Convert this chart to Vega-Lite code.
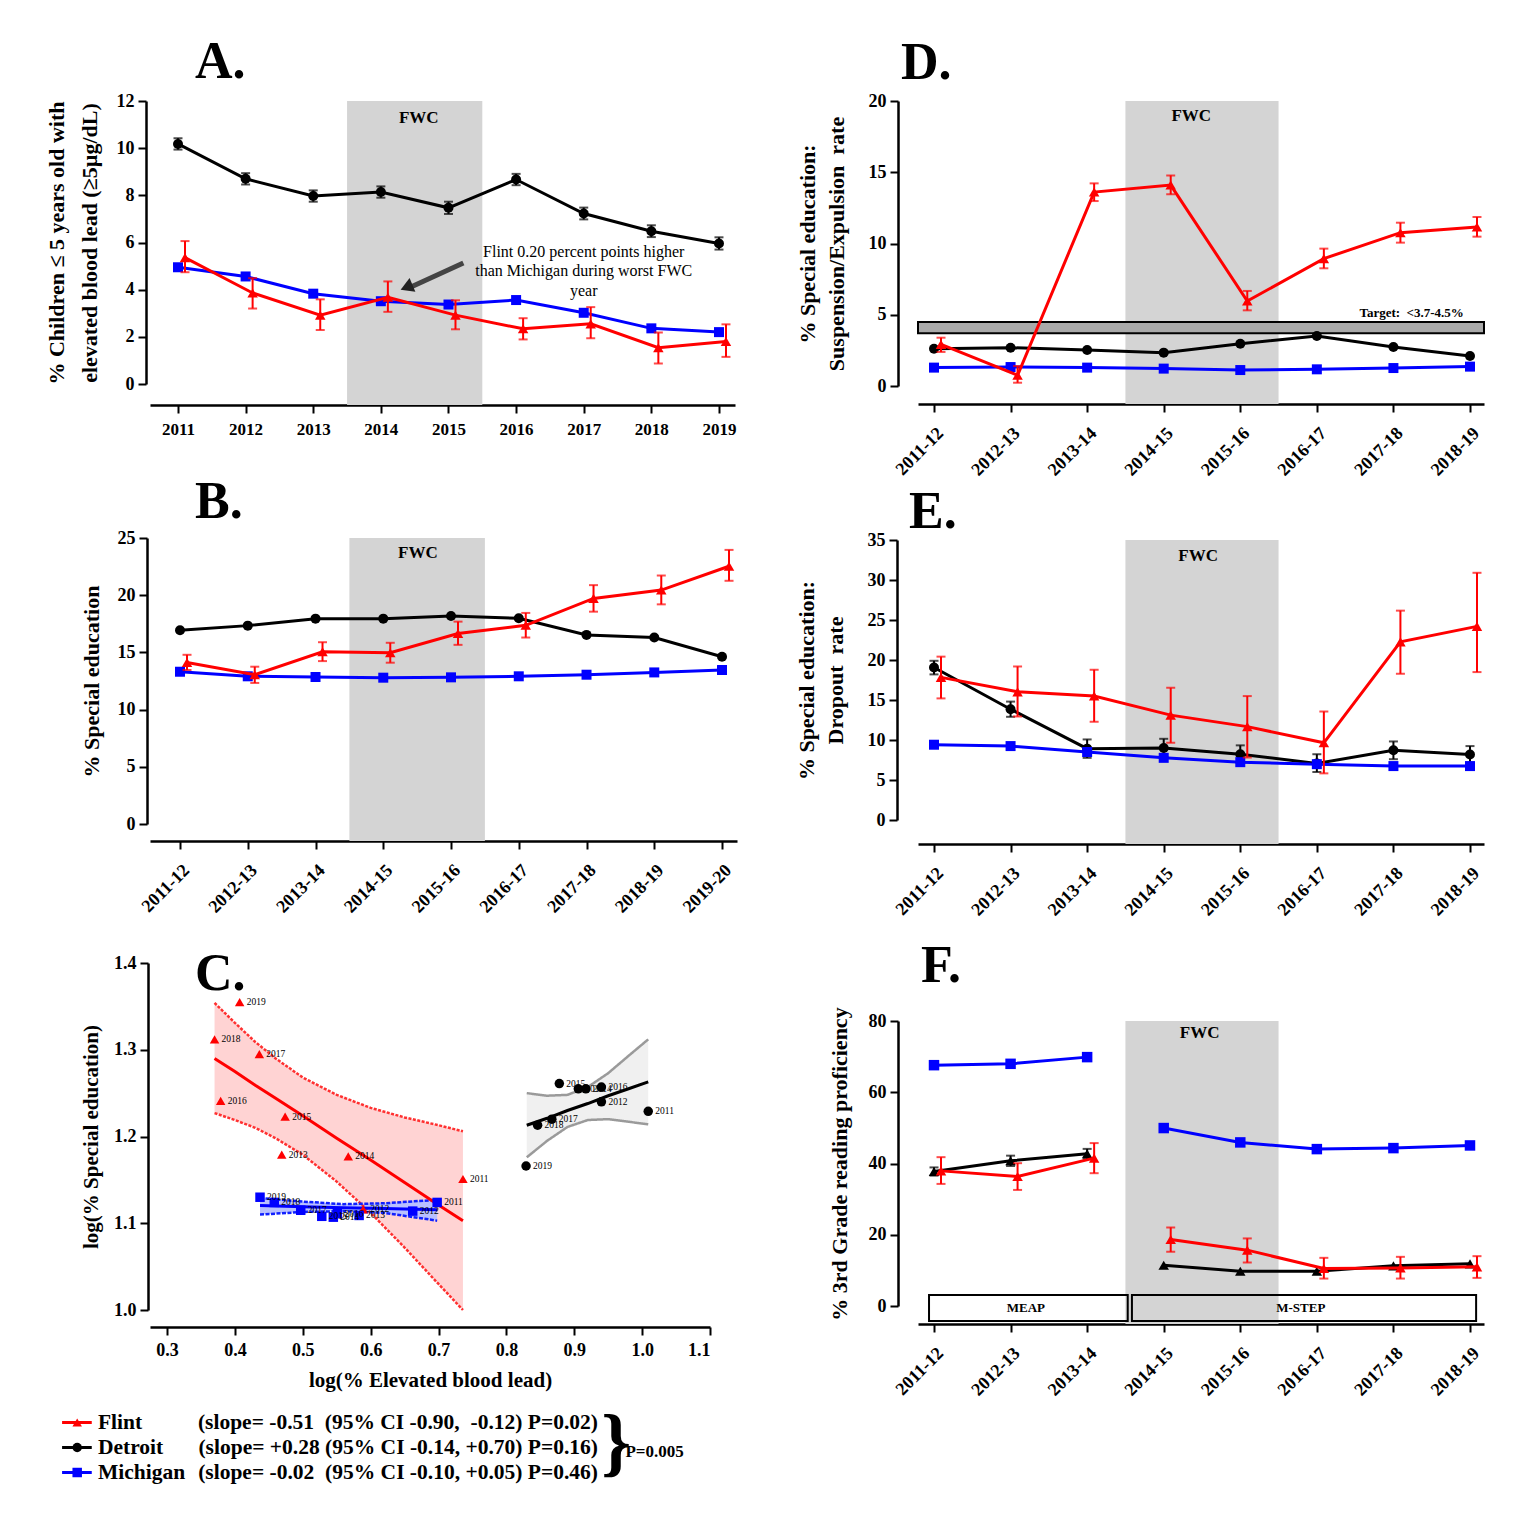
{
  "$schema": "https://vega.github.io/schema/vega-lite/v6.json",
  "background": "white",
  "padding": {"left": 44, "top": 36, "right": 5, "bottom": 5},
  "spacing": 58,
  "config": {
    "font": "Liberation Serif",
    "view": {"stroke": null},
    "axis": {"grid": false, "domainColor": "#000000", "domainWidth": 2.5, "tickColor": "#000000", "tickWidth": 2, "tickSize": 8, "labelFont": "Liberation Serif", "labelFontWeight": "bold", "labelFontSize": 18, "labelColor": "#000000", "labelPadding": 4, "labelOverlap": false, "titleFont": "Liberation Serif", "titleFontWeight": "bold", "titleFontSize": 22, "titleColor": "#000000", "titleLineHeight": 33, "titlePadding": 12},
    "axisX": {"labelAngle": -45, "labelPadding": 12},
    "text": {"font": "Liberation Serif", "color": "#000000"},
    "title": {"font": "Liberation Serif", "fontSize": 52, "fontWeight": "bold", "anchor": "start", "frame": "group", "baseline": "alphabetic", "color": "#000000"}
  },
  "datasets": {
    "a": [
      {"t": 2011, "group": "Detroit", "v": 10.18, "lo": 9.94, "hi": 10.42},
      {"t": 2012, "group": "Detroit", "v": 8.70, "lo": 8.46, "hi": 8.94},
      {"t": 2013, "group": "Detroit", "v": 7.97, "lo": 7.73, "hi": 8.21},
      {"t": 2014, "group": "Detroit", "v": 8.14, "lo": 7.90, "hi": 8.38},
      {"t": 2015, "group": "Detroit", "v": 7.47, "lo": 7.21, "hi": 7.73},
      {"t": 2016, "group": "Detroit", "v": 8.67, "lo": 8.43, "hi": 8.91},
      {"t": 2017, "group": "Detroit", "v": 7.23, "lo": 6.98, "hi": 7.48},
      {"t": 2018, "group": "Detroit", "v": 6.48, "lo": 6.23, "hi": 6.73},
      {"t": 2019, "group": "Detroit", "v": 5.96, "lo": 5.70, "hi": 6.22},
      {"t": 2011, "group": "Michigan", "v": 4.95},
      {"t": 2012, "group": "Michigan", "v": 4.56},
      {"t": 2013, "group": "Michigan", "v": 3.83},
      {"t": 2014, "group": "Michigan", "v": 3.51},
      {"t": 2015, "group": "Michigan", "v": 3.37},
      {"t": 2016, "group": "Michigan", "v": 3.56},
      {"t": 2017, "group": "Michigan", "v": 3.02},
      {"t": 2018, "group": "Michigan", "v": 2.36},
      {"t": 2019, "group": "Michigan", "v": 2.20},
      {"t": 2011, "group": "Flint", "v": 5.36, "lo": 4.74, "hi": 6.06},
      {"t": 2012, "group": "Flint", "v": 3.86, "lo": 3.20, "hi": 4.49},
      {"t": 2013, "group": "Flint", "v": 2.92, "lo": 2.29, "hi": 3.59},
      {"t": 2014, "group": "Flint", "v": 3.68, "lo": 3.06, "hi": 4.35},
      {"t": 2015, "group": "Flint", "v": 2.92, "lo": 2.32, "hi": 3.55},
      {"t": 2016, "group": "Flint", "v": 2.34, "lo": 1.89, "hi": 2.79},
      {"t": 2017, "group": "Flint", "v": 2.55, "lo": 1.94, "hi": 3.26},
      {"t": 2018, "group": "Flint", "v": 1.54, "lo": 0.87, "hi": 2.18},
      {"t": 2019, "group": "Flint", "v": 1.80, "lo": 1.15, "hi": 2.53}
    ],
    "b": [
      {"t": 0, "group": "Detroit", "v": 16.94}, {"t": 1, "group": "Detroit", "v": 17.34}, {"t": 2, "group": "Detroit", "v": 17.95},
      {"t": 3, "group": "Detroit", "v": 17.95}, {"t": 4, "group": "Detroit", "v": 18.18}, {"t": 5, "group": "Detroit", "v": 17.98},
      {"t": 6, "group": "Detroit", "v": 16.53}, {"t": 7, "group": "Detroit", "v": 16.30}, {"t": 8, "group": "Detroit", "v": 14.62},
      {"t": 0, "group": "Michigan", "v": 13.31}, {"t": 1, "group": "Michigan", "v": 12.91}, {"t": 2, "group": "Michigan", "v": 12.85},
      {"t": 3, "group": "Michigan", "v": 12.79}, {"t": 4, "group": "Michigan", "v": 12.82}, {"t": 5, "group": "Michigan", "v": 12.91},
      {"t": 6, "group": "Michigan", "v": 13.05}, {"t": 7, "group": "Michigan", "v": 13.25}, {"t": 8, "group": "Michigan", "v": 13.46},
      {"t": 0, "group": "Flint", "v": 14.12, "lo": 13.46, "hi": 14.79},
      {"t": 1, "group": "Flint", "v": 13.05, "lo": 12.33, "hi": 13.75},
      {"t": 2, "group": "Flint", "v": 15.05, "lo": 14.24, "hi": 15.89},
      {"t": 3, "group": "Flint", "v": 14.97, "lo": 14.10, "hi": 15.84},
      {"t": 4, "group": "Flint", "v": 16.65, "lo": 15.66, "hi": 17.69},
      {"t": 5, "group": "Flint", "v": 17.37, "lo": 16.30, "hi": 18.45},
      {"t": 6, "group": "Flint", "v": 19.72, "lo": 18.56, "hi": 20.88},
      {"t": 7, "group": "Flint", "v": 20.45, "lo": 19.20, "hi": 21.72},
      {"t": 8, "group": "Flint", "v": 22.53, "lo": 21.26, "hi": 23.96}
    ],
    "d": [
      {"t": 0, "group": "Detroit", "v": 2.62}, {"t": 1, "group": "Detroit", "v": 2.69}, {"t": 2, "group": "Detroit", "v": 2.53},
      {"t": 3, "group": "Detroit", "v": 2.34}, {"t": 4, "group": "Detroit", "v": 2.97}, {"t": 5, "group": "Detroit", "v": 3.51},
      {"t": 6, "group": "Detroit", "v": 2.74}, {"t": 7, "group": "Detroit", "v": 2.11},
      {"t": 0, "group": "Michigan", "v": 1.29}, {"t": 1, "group": "Michigan", "v": 1.33}, {"t": 2, "group": "Michigan", "v": 1.29},
      {"t": 3, "group": "Michigan", "v": 1.22}, {"t": 4, "group": "Michigan", "v": 1.12}, {"t": 5, "group": "Michigan", "v": 1.17},
      {"t": 6, "group": "Michigan", "v": 1.26}, {"t": 7, "group": "Michigan", "v": 1.36},
      {"t": 0, "group": "Flint", "v": 2.92, "lo": 2.39, "hi": 3.39},
      {"t": 1, "group": "Flint", "v": 0.75, "lo": 0.23, "hi": 1.40},
      {"t": 2, "group": "Flint", "v": 13.61, "lo": 12.98, "hi": 14.22},
      {"t": 3, "group": "Flint", "v": 14.10, "lo": 13.45, "hi": 14.78},
      {"t": 4, "group": "Flint", "v": 5.96, "lo": 5.31, "hi": 6.67},
      {"t": 5, "group": "Flint", "v": 8.94, "lo": 8.26, "hi": 9.64},
      {"t": 6, "group": "Flint", "v": 10.76, "lo": 10.06, "hi": 11.46},
      {"t": 7, "group": "Flint", "v": 11.16, "lo": 10.48, "hi": 11.86}
    ],
    "e": [
      {"t": 0, "group": "Detroit", "v": 19.06, "lo": 18.2, "hi": 19.9},
      {"t": 1, "group": "Detroit", "v": 13.85, "lo": 12.9, "hi": 14.8},
      {"t": 2, "group": "Detroit", "v": 8.92, "lo": 7.77, "hi": 10.07},
      {"t": 3, "group": "Detroit", "v": 9.0, "lo": 7.89, "hi": 10.15},
      {"t": 4, "group": "Detroit", "v": 8.22, "lo": 7.15, "hi": 9.33},
      {"t": 5, "group": "Detroit", "v": 7.07, "lo": 6.0, "hi": 8.22},
      {"t": 6, "group": "Detroit", "v": 8.71, "lo": 7.6, "hi": 9.82},
      {"t": 7, "group": "Detroit", "v": 8.18, "lo": 7.15, "hi": 9.24},
      {"t": 0, "group": "Michigan", "v": 9.41}, {"t": 1, "group": "Michigan", "v": 9.24}, {"t": 2, "group": "Michigan", "v": 8.50},
      {"t": 3, "group": "Michigan", "v": 7.77}, {"t": 4, "group": "Michigan", "v": 7.23}, {"t": 5, "group": "Michigan", "v": 6.98},
      {"t": 6, "group": "Michigan", "v": 6.74}, {"t": 7, "group": "Michigan", "v": 6.74},
      {"t": 0, "group": "Flint", "v": 17.83, "lo": 15.2, "hi": 20.42},
      {"t": 1, "group": "Flint", "v": 16.02, "lo": 12.94, "hi": 19.19},
      {"t": 2, "group": "Flint", "v": 15.49, "lo": 12.28, "hi": 18.78},
      {"t": 3, "group": "Flint", "v": 13.11, "lo": 9.65, "hi": 16.52},
      {"t": 4, "group": "Flint", "v": 11.67, "lo": 7.81, "hi": 15.49},
      {"t": 5, "group": "Flint", "v": 9.65, "lo": 5.83, "hi": 13.56},
      {"t": 6, "group": "Flint", "v": 22.27, "lo": 18.28, "hi": 26.17},
      {"t": 7, "group": "Flint", "v": 24.2, "lo": 18.49, "hi": 30.9}
    ],
    "f": [
      {"t": 0, "group": "Michigan", "test": "MEAP", "v": 67.6},
      {"t": 1, "group": "Michigan", "test": "MEAP", "v": 67.98},
      {"t": 2, "group": "Michigan", "test": "MEAP", "v": 69.86},
      {"t": 3, "group": "Michigan", "test": "M-STEP", "v": 49.95},
      {"t": 4, "group": "Michigan", "test": "M-STEP", "v": 45.92},
      {"t": 5, "group": "Michigan", "test": "M-STEP", "v": 44.04},
      {"t": 6, "group": "Michigan", "test": "M-STEP", "v": 44.32},
      {"t": 7, "group": "Michigan", "test": "M-STEP", "v": 45.07},
      {"t": 0, "group": "Detroit", "test": "MEAP", "v": 37.75, "lo": 36.6, "hi": 38.9},
      {"t": 1, "group": "Detroit", "test": "MEAP", "v": 40.75, "lo": 39.3, "hi": 42.2},
      {"t": 2, "group": "Detroit", "test": "MEAP", "v": 42.72, "lo": 41.3, "hi": 44.1},
      {"t": 3, "group": "Detroit", "test": "M-STEP", "v": 11.46},
      {"t": 4, "group": "Detroit", "test": "M-STEP", "v": 9.77},
      {"t": 5, "group": "Detroit", "test": "M-STEP", "v": 9.77},
      {"t": 6, "group": "Detroit", "test": "M-STEP", "v": 11.27},
      {"t": 7, "group": "Detroit", "test": "M-STEP", "v": 11.83},
      {"t": 0, "group": "Flint", "test": "MEAP", "v": 37.93, "lo": 34.27, "hi": 41.78},
      {"t": 1, "group": "Flint", "test": "MEAP", "v": 36.34, "lo": 32.58, "hi": 40.09},
      {"t": 2, "group": "Flint", "test": "MEAP", "v": 41.5, "lo": 37.28, "hi": 45.73},
      {"t": 3, "group": "Flint", "test": "M-STEP", "v": 18.69, "lo": 15.21, "hi": 22.07},
      {"t": 4, "group": "Flint", "test": "M-STEP", "v": 15.68, "lo": 12.21, "hi": 18.97},
      {"t": 5, "group": "Flint", "test": "M-STEP", "v": 10.52, "lo": 7.7, "hi": 13.52},
      {"t": 6, "group": "Flint", "test": "M-STEP", "v": 10.70, "lo": 7.7, "hi": 13.8},
      {"t": 7, "group": "Flint", "test": "M-STEP", "v": 10.99, "lo": 7.89, "hi": 13.99}
    ],
    "cpts": [
      {"group": "Flint", "x": 0.407, "y": 1.355, "label": "2019"},
      {"group": "Flint", "x": 0.370, "y": 1.312, "label": "2018"},
      {"group": "Flint", "x": 0.436, "y": 1.295, "label": "2017"},
      {"group": "Flint", "x": 0.379, "y": 1.241, "label": "2016"},
      {"group": "Flint", "x": 0.474, "y": 1.223, "label": "2015"},
      {"group": "Flint", "x": 0.567, "y": 1.177, "label": "2014"},
      {"group": "Flint", "x": 0.469, "y": 1.179, "label": "2013"},
      {"group": "Flint", "x": 0.589, "y": 1.116, "label": "2012"},
      {"group": "Flint", "x": 0.736, "y": 1.151, "label": "2011"},
      {"group": "Detroit", "x": 1.009, "y": 1.229, "label": "2011"},
      {"group": "Detroit", "x": 0.940, "y": 1.240, "label": "2012"},
      {"group": "Detroit", "x": 0.906, "y": 1.255, "label": "2013"},
      {"group": "Detroit", "x": 0.917, "y": 1.255, "label": "2014"},
      {"group": "Detroit", "x": 0.878, "y": 1.261, "label": "2015"},
      {"group": "Detroit", "x": 0.940, "y": 1.257, "label": "2016"},
      {"group": "Detroit", "x": 0.867, "y": 1.220, "label": "2017"},
      {"group": "Detroit", "x": 0.846, "y": 1.213, "label": "2018"},
      {"group": "Detroit", "x": 0.829, "y": 1.166, "label": "2019"},
      {"group": "Michigan", "x": 0.698, "y": 1.124, "label": "2011"},
      {"group": "Michigan", "x": 0.662, "y": 1.114, "label": "2012"},
      {"group": "Michigan", "x": 0.583, "y": 1.109, "label": "2013"},
      {"group": "Michigan", "x": 0.545, "y": 1.107, "label": "2014"},
      {"group": "Michigan", "x": 0.528, "y": 1.108, "label": "2015"},
      {"group": "Michigan", "x": 0.551, "y": 1.111, "label": "2016"},
      {"group": "Michigan", "x": 0.497, "y": 1.115, "label": "2017"},
      {"group": "Michigan", "x": 0.458, "y": 1.124, "label": "2018"},
      {"group": "Michigan", "x": 0.437, "y": 1.130, "label": "2019"}
    ],
    "cfit": [
      {"group": "Flint", "x": 0.37, "fit": 1.290, "lo": 1.227, "hi": 1.354},
      {"group": "Flint", "x": 0.40, "fit": 1.275, "lo": 1.219, "hi": 1.331},
      {"group": "Flint", "x": 0.43, "fit": 1.259, "lo": 1.210, "hi": 1.309},
      {"group": "Flint", "x": 0.46, "fit": 1.244, "lo": 1.198, "hi": 1.290},
      {"group": "Flint", "x": 0.50, "fit": 1.224, "lo": 1.179, "hi": 1.268},
      {"group": "Flint", "x": 0.55, "fit": 1.198, "lo": 1.148, "hi": 1.248},
      {"group": "Flint", "x": 0.60, "fit": 1.173, "lo": 1.112, "hi": 1.233},
      {"group": "Flint", "x": 0.65, "fit": 1.147, "lo": 1.072, "hi": 1.222},
      {"group": "Flint", "x": 0.70, "fit": 1.121, "lo": 1.030, "hi": 1.213},
      {"group": "Flint", "x": 0.736, "fit": 1.103, "lo": 1.000, "hi": 1.206},
      {"group": "Detroit", "x": 0.83, "fit": 1.213, "lo": 1.176, "hi": 1.250},
      {"group": "Detroit", "x": 0.86, "fit": 1.221, "lo": 1.195, "hi": 1.247},
      {"group": "Detroit", "x": 0.89, "fit": 1.230, "lo": 1.211, "hi": 1.248},
      {"group": "Detroit", "x": 0.92, "fit": 1.238, "lo": 1.219, "hi": 1.257},
      {"group": "Detroit", "x": 0.95, "fit": 1.247, "lo": 1.220, "hi": 1.273},
      {"group": "Detroit", "x": 0.98, "fit": 1.255, "lo": 1.217, "hi": 1.293},
      {"group": "Detroit", "x": 1.009, "fit": 1.263, "lo": 1.214, "hi": 1.312},
      {"group": "Michigan", "x": 0.437, "fit": 1.1205, "lo": 1.110, "hi": 1.129},
      {"group": "Michigan", "x": 0.50, "fit": 1.119, "lo": 1.113, "hi": 1.125},
      {"group": "Michigan", "x": 0.56, "fit": 1.118, "lo": 1.114, "hi": 1.122},
      {"group": "Michigan", "x": 0.62, "fit": 1.117, "lo": 1.112, "hi": 1.123},
      {"group": "Michigan", "x": 0.698, "fit": 1.1155, "lo": 1.103, "hi": 1.127}
    ],
    "legend": [
      {"group": "Flint", "stats": "(slope= -0.51\u00a0 (95% CI -0.90,\u00a0 -0.12) P=0.02)"},
      {"group": "Detroit", "stats": "(slope= +0.28 (95% CI -0.14, +0.70) P=0.16)"},
      {"group": "Michigan", "stats": "(slope= -0.02\u00a0 (95% CI -0.10, +0.05) P=0.46)"}
    ]
  },
  "hconcat": [
    {
      "spacing": 15,
      "vconcat": [
        {
          "spacing": 31,
          "vconcat": [
            {
              "spacing": 39,
              "vconcat": [
                {
                  "width": 585, "height": 283,
                  "title": {"text": "A.", "dx": 45, "offset": 3},
                  "data": {"name": "a"},
                  "encoding": {
                    "x": {"field": "t", "type": "quantitative", "scale": {"domain": [2010.586, 2019.237], "nice": false, "zero": false},
                          "axis": {"values": [2011, 2012, 2013, 2014, 2015, 2016, 2017, 2018, 2019], "format": "d", "title": null, "offset": 21, "labelAngle": 0, "labelFontSize": 17, "labelPadding": 8, "tickCount": 12}}
                  },
                  "layer": [
                    {"data": {"values": [{"t": 2013.5, "t2": 2015.5, "lo": -0.89, "hi": 12}]},
                     "mark": {"type": "rect", "color": "#d4d4d4"},
                     "encoding": {"x2": {"field": "t2"},
                                  "y": {"field": "lo", "type": "quantitative", "scale": {"domain": [0, 12], "nice": false},
                                        "axis": {"values": [0, 2, 4, 6, 8, 10, 12], "tickCount": 10, "offset": 4, "titlePadding": 15, "title": ["% Children ≤ 5 years old with", "elevated blood lead (≥5µg/dL)"]}},
                                  "y2": {"field": "hi"}}},
                    {"data": {"values": [{"t": 2014.56, "v": 11.28, "label": "FWC"}]},
                     "mark": {"type": "text", "fontSize": 17, "fontWeight": "bold"},
                     "encoding": {"y": {"field": "v", "type": "quantitative", "scale": {"domain": [0, 12], "nice": false}}, "text": {"field": "label"}}},
                    {"data": {"values": [{"t": 2015.22, "v": 5.13, "t2": 2014.42, "v2": 4.08}]},
                     "mark": {"type": "rule", "strokeWidth": 5, "color": "#444444"},
                     "encoding": {"x2": {"field": "t2"}, "y": {"field": "v", "type": "quantitative", "scale": {"domain": [0, 12], "nice": false}}, "y2": {"field": "v2"}}},
                    {"data": {"values": [{"t": 2014.38, "v": 4.1}]},
                     "mark": {"type": "point", "shape": "triangle-left", "angle": -23, "size": 220, "filled": true, "color": "#222222", "opacity": 1},
                     "encoding": {"y": {"field": "v", "type": "quantitative", "scale": {"domain": [0, 12], "nice": false}}}},
                    {"data": {"values": [{"t": 2017.0, "v": 5.6, "label": "Flint 0.20 percent points higher\nthan Michigan during worst FWC\nyear"}]},
                     "mark": {"type": "text", "fontSize": 16, "lineBreak": "\n", "lineHeight": 19.5},
                     "encoding": {"y": {"field": "v", "type": "quantitative", "scale": {"domain": [0, 12], "nice": false}}, "text": {"field": "label"}}},
                    {"transform": [{"filter": "datum.group != 'Flint'"}],
                     "mark": {"type": "line", "strokeWidth": 3},
                     "encoding": {"y": {"field": "v", "type": "quantitative", "scale": {"domain": [0, 12], "nice": false}},
                                  "color": {"field": "group", "type": "nominal", "scale": {"domain": ["Flint", "Detroit", "Michigan"], "range": ["#ff0000", "#000000", "#0000ff"]}, "legend": null}}},
                    {"transform": [{"filter": "datum.group == 'Detroit'"}],
                     "mark": {"type": "rule", "strokeWidth": 2, "color": "#000000"},
                     "encoding": {"y": {"field": "lo", "type": "quantitative", "scale": {"domain": [0, 12], "nice": false}}, "y2": {"field": "hi"}}},
                    {"transform": [{"filter": "datum.group == 'Detroit'"}, {"fold": ["lo", "hi"], "as": ["end", "ev"]}],
                     "mark": {"type": "tick", "orient": "horizontal", "size": 9, "thickness": 2, "color": "#000000"},
                     "encoding": {"y": {"field": "ev", "type": "quantitative", "scale": {"domain": [0, 12], "nice": false}}}},
                    {"transform": [{"filter": "datum.group != 'Flint'"}],
                     "mark": {"type": "point", "filled": true, "size": 100, "opacity": 1},
                     "encoding": {"y": {"field": "v", "type": "quantitative", "scale": {"domain": [0, 12], "nice": false}},
                                  "color": {"field": "group", "type": "nominal", "scale": {"domain": ["Flint", "Detroit", "Michigan"], "range": ["#ff0000", "#000000", "#0000ff"]}, "legend": null},
                                  "shape": {"field": "group", "type": "nominal", "scale": {"domain": ["Flint", "Detroit", "Michigan"], "range": ["triangle-up", "circle", "square"]}, "legend": null}}},
                    {"transform": [{"filter": "datum.group == 'Flint'"}],
                     "mark": {"type": "line", "strokeWidth": 3, "color": "#ff0000", "xOffset": 7},
                     "encoding": {"y": {"field": "v", "type": "quantitative", "scale": {"domain": [0, 12], "nice": false}}}},
                    {"transform": [{"filter": "datum.group == 'Flint'"}],
                     "mark": {"type": "rule", "strokeWidth": 2, "color": "#ff0000", "xOffset": 7},
                     "encoding": {"y": {"field": "lo", "type": "quantitative", "scale": {"domain": [0, 12], "nice": false}}, "y2": {"field": "hi"}}},
                    {"transform": [{"filter": "datum.group == 'Flint'"}, {"fold": ["lo", "hi"], "as": ["end", "ev"]}],
                     "mark": {"type": "tick", "orient": "horizontal", "size": 9, "thickness": 2, "color": "#ff0000", "xOffset": 7},
                     "encoding": {"y": {"field": "ev", "type": "quantitative", "scale": {"domain": [0, 12], "nice": false}}}},
                    {"transform": [{"filter": "datum.group == 'Flint'"}],
                     "mark": {"type": "point", "shape": "triangle-up", "filled": true, "size": 110, "color": "#ff0000", "opacity": 1, "xOffset": 7},
                     "encoding": {"y": {"field": "v", "type": "quantitative", "scale": {"domain": [0, 12], "nice": false}}}}
                  ]
                },
                {
                  "width": 587, "height": 286,
                  "title": {"text": "B.", "dx": 45, "offset": 0},
                  "data": {"name": "b"},
                  "encoding": {
                    "x": {"field": "t", "type": "quantitative", "scale": {"domain": [-0.443, 8.221], "nice": false, "zero": false},
                          "axis": {"values": [0, 1, 2, 3, 4, 5, 6, 7, 8], "tickCount": 12, "labelExpr": "['2011-12','2012-13','2013-14','2014-15','2015-16','2016-17','2017-18','2018-19','2019-20'][datum.value]", "title": null, "offset": 17}}
                  },
                  "layer": [
                    {"data": {"values": [{"t": 2.5, "t2": 4.5, "lo": -1.49, "hi": 25}]},
                     "mark": {"type": "rect", "color": "#d4d4d4"},
                     "encoding": {"x2": {"field": "t2"},
                                  "y": {"field": "lo", "type": "quantitative", "scale": {"domain": [0, 25], "nice": false},
                                        "axis": {"values": [0, 5, 10, 15, 20, 25], "tickCount": 10, "offset": 3, "title": "% Special education", "titlePadding": 14}},
                                  "y2": {"field": "hi"}}},
                    {"data": {"values": [{"t": 3.51, "v": 23.7, "label": "FWC"}]},
                     "mark": {"type": "text", "fontSize": 17, "fontWeight": "bold"},
                     "encoding": {"y": {"field": "v", "type": "quantitative", "scale": {"domain": [0, 25], "nice": false}}, "text": {"field": "label"}}},
                    {"transform": [{"filter": "datum.group != 'Flint'"}],
                     "mark": {"type": "line", "strokeWidth": 3},
                     "encoding": {"y": {"field": "v", "type": "quantitative", "scale": {"domain": [0, 25], "nice": false}},
                                  "color": {"field": "group", "type": "nominal", "scale": {"domain": ["Flint", "Detroit", "Michigan"], "range": ["#ff0000", "#000000", "#0000ff"]}, "legend": null}}},
                    {"transform": [{"filter": "datum.group != 'Flint'"}],
                     "mark": {"type": "point", "filled": true, "size": 100, "opacity": 1},
                     "encoding": {"y": {"field": "v", "type": "quantitative", "scale": {"domain": [0, 25], "nice": false}},
                                  "color": {"field": "group", "type": "nominal", "scale": {"domain": ["Flint", "Detroit", "Michigan"], "range": ["#ff0000", "#000000", "#0000ff"]}, "legend": null},
                                  "shape": {"field": "group", "type": "nominal", "scale": {"domain": ["Flint", "Detroit", "Michigan"], "range": ["triangle-up", "circle", "square"]}, "legend": null}}},
                    {"transform": [{"filter": "datum.group == 'Flint'"}],
                     "mark": {"type": "line", "strokeWidth": 3, "color": "#ff0000", "xOffset": 7},
                     "encoding": {"y": {"field": "v", "type": "quantitative", "scale": {"domain": [0, 25], "nice": false}}}},
                    {"transform": [{"filter": "datum.group == 'Flint'"}],
                     "mark": {"type": "rule", "strokeWidth": 2, "color": "#ff0000", "xOffset": 7},
                     "encoding": {"y": {"field": "lo", "type": "quantitative", "scale": {"domain": [0, 25], "nice": false}}, "y2": {"field": "hi"}}},
                    {"transform": [{"filter": "datum.group == 'Flint'"}, {"fold": ["lo", "hi"], "as": ["end", "ev"]}],
                     "mark": {"type": "tick", "orient": "horizontal", "size": 9, "thickness": 2, "color": "#ff0000", "xOffset": 7},
                     "encoding": {"y": {"field": "ev", "type": "quantitative", "scale": {"domain": [0, 25], "nice": false}}}},
                    {"transform": [{"filter": "datum.group == 'Flint'"}],
                     "mark": {"type": "point", "shape": "triangle-up", "filled": true, "size": 110, "color": "#ff0000", "opacity": 1, "xOffset": 7},
                     "encoding": {"y": {"field": "v", "type": "quantitative", "scale": {"domain": [0, 25], "nice": false}}}}
                  ]
                }
              ]
            },
            {
              "width": 560, "height": 347,
              "title": {"text": "C.", "dx": 45, "offset": -47},
              "encoding": {
                "x": {"field": "x", "type": "quantitative", "scale": {"domain": [0.2749, 1.1], "nice": false, "zero": false},
                      "axis": {"values": [0.3, 0.4, 0.5, 0.6, 0.7, 0.8, 0.9, 1.0, 1.1], "tickCount": 12, "format": ".1f", "title": "log(% Elevated blood lead)", "offset": 17, "labelAngle": 0, "labelPadding": 6, "titleFontSize": 21, "titlePadding": 10}}
              },
              "layer": [
                {"data": {"name": "cfit"},
                 "mark": {"type": "area", "opacity": 1},
                 "encoding": {"y": {"field": "lo", "type": "quantitative", "stack": null, "scale": {"domain": [1.0, 1.4], "nice": false, "zero": false},
                                    "axis": {"values": [1.0, 1.1, 1.2, 1.3, 1.4], "tickCount": 10, "format": ".1f", "offset": 2, "title": "log(% Special education)", "titleFontSize": 21}},
                              "y2": {"field": "hi"},
                              "fill": {"field": "group", "type": "nominal", "scale": {"domain": ["Flint", "Detroit", "Michigan"], "range": ["#ffd3d3", "#f0f0f0", "#b9c0ff"]}, "legend": null}}},
                {"data": {"name": "cfit"},
                 "mark": {"type": "line", "strokeWidth": 2.5},
                 "encoding": {"y": {"field": "lo", "type": "quantitative", "scale": {"domain": [1.0, 1.4], "nice": false, "zero": false}},
                              "stroke": {"field": "group", "type": "nominal", "scale": {"domain": ["Flint", "Detroit", "Michigan"], "range": ["#ff3030", "#9a9a9a", "#1020ff"]}, "legend": null},
                              "strokeDash": {"field": "group", "type": "nominal", "scale": {"domain": ["Flint", "Detroit", "Michigan"], "range": [[3, 1.5], [1, 0], [4, 1.5]]}, "legend": null}}},
                {"data": {"name": "cfit"},
                 "mark": {"type": "line", "strokeWidth": 2.5},
                 "encoding": {"y": {"field": "hi", "type": "quantitative", "scale": {"domain": [1.0, 1.4], "nice": false, "zero": false}},
                              "stroke": {"field": "group", "type": "nominal", "scale": {"domain": ["Flint", "Detroit", "Michigan"], "range": ["#ff3030", "#9a9a9a", "#1020ff"]}, "legend": null},
                              "strokeDash": {"field": "group", "type": "nominal", "scale": {"domain": ["Flint", "Detroit", "Michigan"], "range": [[3, 1.5], [1, 0], [4, 1.5]]}, "legend": null}}},
                {"data": {"name": "cfit"},
                 "mark": {"type": "line", "strokeWidth": 3},
                 "encoding": {"y": {"field": "fit", "type": "quantitative", "scale": {"domain": [1.0, 1.4], "nice": false, "zero": false}},
                              "color": {"field": "group", "type": "nominal", "scale": {"domain": ["Flint", "Detroit", "Michigan"], "range": ["#ff0000", "#000000", "#0000ff"]}, "legend": null}}},
                {"data": {"name": "cpts"},
                 "mark": {"type": "point", "filled": true, "size": 90, "opacity": 1},
                 "encoding": {"y": {"field": "y", "type": "quantitative", "scale": {"domain": [1.0, 1.4], "nice": false, "zero": false}},
                              "color": {"field": "group", "type": "nominal", "scale": {"domain": ["Flint", "Detroit", "Michigan"], "range": ["#ff0000", "#000000", "#0000ff"]}, "legend": null},
                              "shape": {"field": "group", "type": "nominal", "scale": {"domain": ["Flint", "Detroit", "Michigan"], "range": ["triangle-up", "circle", "square"]}, "legend": null}}},
                {"data": {"name": "cpts"},
                 "mark": {"type": "text", "fontSize": 9.5, "align": "left", "dx": 7, "baseline": "middle"},
                 "encoding": {"y": {"field": "y", "type": "quantitative", "scale": {"domain": [1.0, 1.4], "nice": false, "zero": false}}, "text": {"field": "label"}}}
              ]
            }
          ]
        },
        {
          "width": 560, "height": 75,
          "data": {"name": "legend"},
          "encoding": {
            "y": {"field": "group", "type": "nominal", "scale": {"type": "point", "domain": ["Flint", "Detroit", "Michigan"], "padding": 0.5}, "axis": null}
          },
          "layer": [
            {"mark": {"type": "rule", "strokeWidth": 3},
             "encoding": {"x": {"datum": -0.157, "type": "quantitative", "scale": {"domain": [0, 1]}, "axis": null}, "x2": {"datum": -0.104},
                          "color": {"field": "group", "type": "nominal", "scale": {"domain": ["Flint", "Detroit", "Michigan"], "range": ["#ff0000", "#000000", "#0000ff"]}, "legend": null}}},
            {"mark": {"type": "point", "filled": true, "size": 90, "opacity": 1},
             "encoding": {"x": {"datum": -0.130, "type": "quantitative", "scale": {"domain": [0, 1]}, "axis": null},
                          "color": {"field": "group", "type": "nominal", "scale": {"domain": ["Flint", "Detroit", "Michigan"], "range": ["#ff0000", "#000000", "#0000ff"]}, "legend": null},
                          "shape": {"field": "group", "type": "nominal", "scale": {"domain": ["Flint", "Detroit", "Michigan"], "range": ["triangle-up", "circle", "square"]}, "legend": null}}},
            {"mark": {"type": "text", "fontSize": 21.5, "fontWeight": "bold", "align": "left", "baseline": "middle"},
             "encoding": {"x": {"datum": -0.093, "type": "quantitative", "scale": {"domain": [0, 1]}, "axis": null}, "text": {"field": "group"}}},
            {"mark": {"type": "text", "fontSize": 21.5, "fontWeight": "bold", "align": "right", "baseline": "middle"},
             "encoding": {"x": {"datum": 0.80, "type": "quantitative", "scale": {"domain": [0, 1]}, "axis": null}, "text": {"field": "stats"}}},
            {"transform": [{"filter": "datum.group == 'Detroit'"}],
             "mark": {"type": "text", "fontSize": 76, "fontWeight": "bold", "align": "left", "baseline": "middle", "dy": -4},
             "encoding": {"x": {"datum": 0.806, "type": "quantitative", "scale": {"domain": [0, 1]}, "axis": null}, "text": {"value": "}"}}},
            {"transform": [{"filter": "datum.group == 'Detroit'"}],
             "mark": {"type": "text", "fontSize": 17, "fontWeight": "bold", "align": "left", "baseline": "middle", "dy": 4},
             "encoding": {"x": {"datum": 0.849, "type": "quantitative", "scale": {"domain": [0, 1]}, "axis": null}, "text": {"value": "P=0.005"}}}
          ]
        }
      ]
    },
    {
      "spacing": 19,
      "vconcat": [
        {
          "spacing": 6,
          "vconcat": [
            {
              "width": 566, "height": 285,
              "title": {"text": "D.", "dx": -17, "offset": 2},
              "data": {"name": "d"},
              "encoding": {
                "x": {"field": "t", "type": "quantitative", "scale": {"domain": [-0.209, 7.183], "nice": false, "zero": false},
                      "axis": {"values": [0, 1, 2, 3, 4, 5, 6, 7], "tickCount": 12, "labelExpr": "['2011-12','2012-13','2013-14','2014-15','2015-16','2016-17','2017-18','2018-19'][datum.value]", "title": null, "offset": 18}}
              },
              "layer": [
                {"data": {"values": [{"t": 2.5, "t2": 4.5, "lo": -1.26, "hi": 20}]},
                 "mark": {"type": "rect", "color": "#d4d4d4"},
                 "encoding": {"x2": {"field": "t2"},
                              "y": {"field": "lo", "type": "quantitative", "scale": {"domain": [0, 20], "nice": false},
                                    "axis": {"values": [0, 5, 10, 15, 20], "tickCount": 10, "offset": 20, "titlePadding": 20, "titleLineHeight": 29, "title": ["% Special education:", "Suspension/Expulsion\u00a0 rate"]}},
                              "y2": {"field": "hi"}}},
                {"data": {"values": [{"t": -0.209, "t2": 7.183, "lo": 3.7, "hi": 4.5}]},
                 "mark": {"type": "rect", "color": "#a9a9a9", "stroke": "#000000", "strokeWidth": 2},
                 "encoding": {"x2": {"field": "t2"}, "y": {"field": "lo", "type": "quantitative", "scale": {"domain": [0, 20], "nice": false}}, "y2": {"field": "hi"}}},
                {"data": {"values": [{"t": 3.36, "v": 18.95, "label": "FWC"}]},
                 "mark": {"type": "text", "fontSize": 17, "fontWeight": "bold"},
                 "encoding": {"y": {"field": "v", "type": "quantitative", "scale": {"domain": [0, 20], "nice": false}}, "text": {"field": "label"}}},
                {"data": {"values": [{"t": 6.92, "v": 5.12, "label": "Target:\u00a0 <3.7-4.5%"}]},
                 "mark": {"type": "text", "fontSize": 13, "fontWeight": "bold", "align": "right"},
                 "encoding": {"y": {"field": "v", "type": "quantitative", "scale": {"domain": [0, 20], "nice": false}}, "text": {"field": "label"}}},
                {"transform": [{"filter": "datum.group != 'Flint'"}],
                 "mark": {"type": "line", "strokeWidth": 3},
                 "encoding": {"y": {"field": "v", "type": "quantitative", "scale": {"domain": [0, 20], "nice": false}},
                              "color": {"field": "group", "type": "nominal", "scale": {"domain": ["Flint", "Detroit", "Michigan"], "range": ["#ff0000", "#000000", "#0000ff"]}, "legend": null}}},
                {"transform": [{"filter": "datum.group != 'Flint'"}],
                 "mark": {"type": "point", "filled": true, "size": 100, "opacity": 1},
                 "encoding": {"y": {"field": "v", "type": "quantitative", "scale": {"domain": [0, 20], "nice": false}},
                              "color": {"field": "group", "type": "nominal", "scale": {"domain": ["Flint", "Detroit", "Michigan"], "range": ["#ff0000", "#000000", "#0000ff"]}, "legend": null},
                              "shape": {"field": "group", "type": "nominal", "scale": {"domain": ["Flint", "Detroit", "Michigan"], "range": ["triangle-up", "circle", "square"]}, "legend": null}}},
                {"transform": [{"filter": "datum.group == 'Flint'"}],
                 "mark": {"type": "line", "strokeWidth": 3, "color": "#ff0000", "xOffset": 7},
                 "encoding": {"y": {"field": "v", "type": "quantitative", "scale": {"domain": [0, 20], "nice": false}}}},
                {"transform": [{"filter": "datum.group == 'Flint'"}],
                 "mark": {"type": "rule", "strokeWidth": 2, "color": "#ff0000", "xOffset": 7},
                 "encoding": {"y": {"field": "lo", "type": "quantitative", "scale": {"domain": [0, 20], "nice": false}}, "y2": {"field": "hi"}}},
                {"transform": [{"filter": "datum.group == 'Flint'"}, {"fold": ["lo", "hi"], "as": ["end", "ev"]}],
                 "mark": {"type": "tick", "orient": "horizontal", "size": 9, "thickness": 2, "color": "#ff0000", "xOffset": 7},
                 "encoding": {"y": {"field": "ev", "type": "quantitative", "scale": {"domain": [0, 20], "nice": false}}}},
                {"transform": [{"filter": "datum.group == 'Flint'"}],
                 "mark": {"type": "point", "shape": "triangle-up", "filled": true, "size": 110, "color": "#ff0000", "opacity": 1, "xOffset": 7},
                 "encoding": {"y": {"field": "v", "type": "quantitative", "scale": {"domain": [0, 20], "nice": false}}}}
              ]
            },
            {
              "width": 566, "height": 280,
              "title": {"text": "E.", "dx": -9, "offset": -8},
              "data": {"name": "e"},
              "encoding": {
                "x": {"field": "t", "type": "quantitative", "scale": {"domain": [-0.209, 7.183], "nice": false, "zero": false},
                      "axis": {"values": [0, 1, 2, 3, 4, 5, 6, 7], "tickCount": 12, "labelExpr": "['2011-12','2012-13','2013-14','2014-15','2015-16','2016-17','2017-18','2018-19'][datum.value]", "title": null, "offset": 24}}
              },
              "layer": [
                {"data": {"values": [{"t": 2.5, "t2": 4.5, "lo": -3.0, "hi": 35}]},
                 "mark": {"type": "rect", "color": "#d4d4d4"},
                 "encoding": {"x2": {"field": "t2"},
                              "y": {"field": "lo", "type": "quantitative", "scale": {"domain": [0, 35], "nice": false},
                                    "axis": {"values": [0, 5, 10, 15, 20, 25, 30, 35], "tickCount": 10, "offset": 21, "titlePadding": 20, "titleLineHeight": 29, "title": ["% Special education:", "Dropout\u00a0 rate"]}},
                              "y2": {"field": "hi"}}},
                {"data": {"values": [{"t": 3.45, "v": 33.0, "label": "FWC"}]},
                 "mark": {"type": "text", "fontSize": 17, "fontWeight": "bold"},
                 "encoding": {"y": {"field": "v", "type": "quantitative", "scale": {"domain": [0, 35], "nice": false}}, "text": {"field": "label"}}},
                {"transform": [{"filter": "datum.group != 'Flint'"}],
                 "mark": {"type": "line", "strokeWidth": 3},
                 "encoding": {"y": {"field": "v", "type": "quantitative", "scale": {"domain": [0, 35], "nice": false}},
                              "color": {"field": "group", "type": "nominal", "scale": {"domain": ["Flint", "Detroit", "Michigan"], "range": ["#ff0000", "#000000", "#0000ff"]}, "legend": null}}},
                {"transform": [{"filter": "datum.group == 'Detroit'"}],
                 "mark": {"type": "rule", "strokeWidth": 2, "color": "#000000"},
                 "encoding": {"y": {"field": "lo", "type": "quantitative", "scale": {"domain": [0, 35], "nice": false}}, "y2": {"field": "hi"}}},
                {"transform": [{"filter": "datum.group == 'Detroit'"}, {"fold": ["lo", "hi"], "as": ["end", "ev"]}],
                 "mark": {"type": "tick", "orient": "horizontal", "size": 9, "thickness": 2, "color": "#000000"},
                 "encoding": {"y": {"field": "ev", "type": "quantitative", "scale": {"domain": [0, 35], "nice": false}}}},
                {"transform": [{"filter": "datum.group != 'Flint'"}],
                 "mark": {"type": "point", "filled": true, "size": 100, "opacity": 1},
                 "encoding": {"y": {"field": "v", "type": "quantitative", "scale": {"domain": [0, 35], "nice": false}},
                              "color": {"field": "group", "type": "nominal", "scale": {"domain": ["Flint", "Detroit", "Michigan"], "range": ["#ff0000", "#000000", "#0000ff"]}, "legend": null},
                              "shape": {"field": "group", "type": "nominal", "scale": {"domain": ["Flint", "Detroit", "Michigan"], "range": ["triangle-up", "circle", "square"]}, "legend": null}}},
                {"transform": [{"filter": "datum.group == 'Flint'"}],
                 "mark": {"type": "line", "strokeWidth": 3, "color": "#ff0000", "xOffset": 7},
                 "encoding": {"y": {"field": "v", "type": "quantitative", "scale": {"domain": [0, 35], "nice": false}}}},
                {"transform": [{"filter": "datum.group == 'Flint'"}],
                 "mark": {"type": "rule", "strokeWidth": 2, "color": "#ff0000", "xOffset": 7},
                 "encoding": {"y": {"field": "lo", "type": "quantitative", "scale": {"domain": [0, 35], "nice": false}}, "y2": {"field": "hi"}}},
                {"transform": [{"filter": "datum.group == 'Flint'"}, {"fold": ["lo", "hi"], "as": ["end", "ev"]}],
                 "mark": {"type": "tick", "orient": "horizontal", "size": 9, "thickness": 2, "color": "#ff0000", "xOffset": 7},
                 "encoding": {"y": {"field": "ev", "type": "quantitative", "scale": {"domain": [0, 35], "nice": false}}}},
                {"transform": [{"filter": "datum.group == 'Flint'"}],
                 "mark": {"type": "point", "shape": "triangle-up", "filled": true, "size": 110, "color": "#ff0000", "opacity": 1, "xOffset": 7},
                 "encoding": {"y": {"field": "v", "type": "quantitative", "scale": {"domain": [0, 35], "nice": false}}}}
              ]
            }
          ]
        },
        {
          "width": 566, "height": 285,
          "title": {"text": "F.", "dx": 3, "offset": 14},
          "data": {"name": "f"},
          "encoding": {
            "x": {"field": "t", "type": "quantitative", "scale": {"domain": [-0.209, 7.183], "nice": false, "zero": false},
                  "axis": {"values": [0, 1, 2, 3, 4, 5, 6, 7], "tickCount": 12, "labelExpr": "['2011-12','2012-13','2013-14','2014-15','2015-16','2016-17','2017-18','2018-19'][datum.value]", "title": null, "offset": 18}}
          },
          "layer": [
            {"data": {"values": [{"t": 2.5, "t2": 4.5, "lo": -5.05, "hi": 80}]},
             "mark": {"type": "rect", "color": "#d4d4d4"},
             "encoding": {"x2": {"field": "t2"},
                          "y": {"field": "lo", "type": "quantitative", "scale": {"domain": [0, 80], "nice": false},
                                "axis": {"values": [0, 20, 40, 60, 80], "tickCount": 10, "offset": 20, "titlePadding": 17, "title": "% 3rd Grade reading proficiency"}},
                          "y2": {"field": "hi"}}},
            {"data": {"values": [{"t": -0.065, "t2": 2.53, "lo": -4.2, "hi": 3.1}, {"t": 2.585, "t2": 7.08, "lo": -4.2, "hi": 3.1}]},
             "mark": {"type": "rect", "fill": "transparent", "stroke": "#000000", "strokeWidth": 2},
             "encoding": {"x2": {"field": "t2"}, "y": {"field": "lo", "type": "quantitative", "scale": {"domain": [0, 80], "nice": false}}, "y2": {"field": "hi"}}},
            {"data": {"values": [{"t": 3.47, "v": 76.6, "label": "FWC"}]},
             "mark": {"type": "text", "fontSize": 17, "fontWeight": "bold"},
             "encoding": {"y": {"field": "v", "type": "quantitative", "scale": {"domain": [0, 80], "nice": false}}, "text": {"field": "label"}}},
            {"data": {"values": [{"t": 1.2, "v": -0.56, "label": "MEAP"}, {"t": 4.79, "v": -0.56, "label": "M-STEP"}]},
             "mark": {"type": "text", "fontSize": 13, "fontWeight": "bold"},
             "encoding": {"y": {"field": "v", "type": "quantitative", "scale": {"domain": [0, 80], "nice": false}}, "text": {"field": "label"}}},
            {"transform": [{"filter": "datum.group != 'Flint'"}],
             "mark": {"type": "line", "strokeWidth": 3},
             "encoding": {"y": {"field": "v", "type": "quantitative", "scale": {"domain": [0, 80], "nice": false}},
                          "color": {"field": "group", "type": "nominal", "scale": {"domain": ["Flint", "Detroit", "Michigan"], "range": ["#ff0000", "#000000", "#0000ff"]}, "legend": null},
                          "detail": {"field": "test"}}},
            {"transform": [{"filter": "datum.group == 'Detroit' && datum.lo != null"}],
             "mark": {"type": "rule", "strokeWidth": 2, "color": "#000000"},
             "encoding": {"y": {"field": "lo", "type": "quantitative", "scale": {"domain": [0, 80], "nice": false}}, "y2": {"field": "hi"}}},
            {"transform": [{"filter": "datum.group == 'Detroit' && datum.lo != null"}, {"fold": ["lo", "hi"], "as": ["end", "ev"]}],
             "mark": {"type": "tick", "orient": "horizontal", "size": 9, "thickness": 2, "color": "#000000"},
             "encoding": {"y": {"field": "ev", "type": "quantitative", "scale": {"domain": [0, 80], "nice": false}}}},
            {"transform": [{"filter": "datum.group == 'Michigan'"}],
             "mark": {"type": "point", "shape": "square", "filled": true, "size": 110, "color": "#0000ff", "opacity": 1},
             "encoding": {"y": {"field": "v", "type": "quantitative", "scale": {"domain": [0, 80], "nice": false}}}},
            {"transform": [{"filter": "datum.group == 'Detroit'"}],
             "mark": {"type": "point", "shape": "triangle-up", "filled": true, "size": 110, "color": "#000000", "opacity": 1},
             "encoding": {"y": {"field": "v", "type": "quantitative", "scale": {"domain": [0, 80], "nice": false}}}},
            {"transform": [{"filter": "datum.group == 'Flint'"}],
             "mark": {"type": "line", "strokeWidth": 3, "color": "#ff0000", "xOffset": 7},
             "encoding": {"y": {"field": "v", "type": "quantitative", "scale": {"domain": [0, 80], "nice": false}}, "detail": {"field": "test"}}},
            {"transform": [{"filter": "datum.group == 'Flint'"}],
             "mark": {"type": "rule", "strokeWidth": 2, "color": "#ff0000", "xOffset": 7},
             "encoding": {"y": {"field": "lo", "type": "quantitative", "scale": {"domain": [0, 80], "nice": false}}, "y2": {"field": "hi"}}},
            {"transform": [{"filter": "datum.group == 'Flint'"}, {"fold": ["lo", "hi"], "as": ["end", "ev"]}],
             "mark": {"type": "tick", "orient": "horizontal", "size": 9, "thickness": 2, "color": "#ff0000", "xOffset": 7},
             "encoding": {"y": {"field": "ev", "type": "quantitative", "scale": {"domain": [0, 80], "nice": false}}}},
            {"transform": [{"filter": "datum.group == 'Flint'"}],
             "mark": {"type": "point", "shape": "triangle-up", "filled": true, "size": 110, "color": "#ff0000", "opacity": 1, "xOffset": 7},
             "encoding": {"y": {"field": "v", "type": "quantitative", "scale": {"domain": [0, 80], "nice": false}}}}
          ]
        }
      ]
    }
  ]
}
